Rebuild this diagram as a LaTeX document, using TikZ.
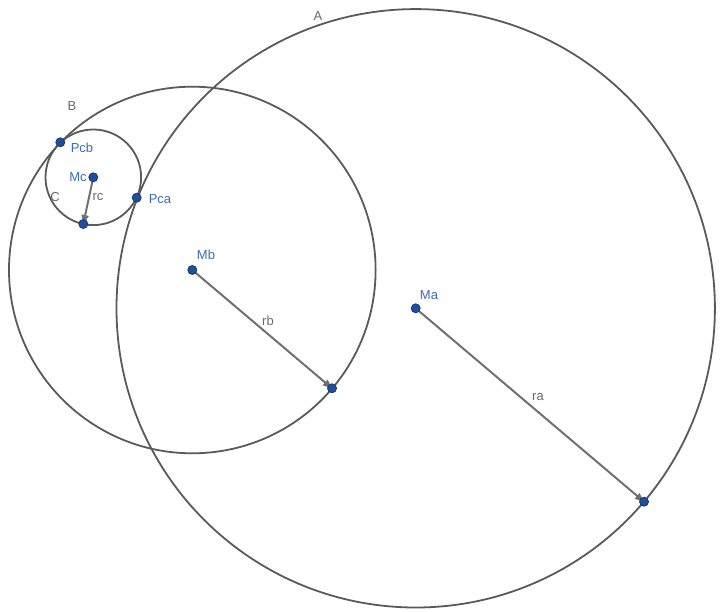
\documentclass[tikz,border=0pt]{standalone}
\usepackage{fontspec}
\setmainfont{Liberation Sans}
\usetikzlibrary{arrows.meta}
\definecolor{circ}{HTML}{5A5A5A}
\definecolor{vec}{HTML}{707070}
\definecolor{ptfill}{HTML}{1F4E9A}
\definecolor{ptdraw}{HTML}{123A78}
\definecolor{lblue}{HTML}{3A6DB5}
\definecolor{lgray}{HTML}{6A6A6A}
\tikzset{
  circline/.style={draw=circ, line width=1.8pt},
  vecline/.style={draw=vec, line width=2pt, -{Triangle[length=9pt,width=7pt]}},
  pt/.style={circle, fill=ptfill, draw=ptdraw, line width=0.8pt, inner sep=0pt, minimum size=9pt},
  plabel/.style={text=lblue, font=\fontsize{13}{13}\selectfont, inner sep=0pt},
  glabel/.style={text=lgray, font=\fontsize{13}{13}\selectfont, inner sep=0pt}
}
\begin{document}
\begin{tikzpicture}[x=1pt,y=-1pt]
\useasboundingbox (0,0) rectangle (720,612);
% centers and radius end points
\coordinate (ma) at (415.7,308.3);
\coordinate (mb) at (192.3,270);
\coordinate (mc) at (93.3,177.3);
\coordinate (ea) at (644,501.7);
\coordinate (eb) at (332,388.3);
\coordinate (ec) at (83.3,224);
% circles
\draw[circline] (ma) circle (299.2);
\draw[circline] (mb) circle (183.3);
\draw[circline] (mc) circle (47.8);
% vectors
\draw[vecline] (ma) -- (ea);
\draw[vecline] (mb) -- (eb);
\draw[vecline] (mc) -- (ec);
% points
\node[pt] (Ma) at (ma) {};
\node[pt] (Mb) at (mb) {};
\node[pt] (Mc) at (mc) {};
\node[pt] (Ea) at (ea) {};
\node[pt] (Eb) at (eb) {};
\node[pt] (Ec) at (ec) {};
\node[pt] (Pcb) at (60.3,142.3) {};
\node[pt] (Pca) at (136.7,197.7) {};
% labels
\node[plabel] (lMa) at (429,295) {Ma};
\node[plabel] (lMb) at (206,255) {Mb};
\node[plabel] (lMc) at (78,177) {Mc};
\node[plabel] (lPcb) at (82,148) {Pcb};
\node[plabel] (lPca) at (160,199) {Pca};
\node[glabel] (lA) at (318,16) {A};
\node[glabel] (lB) at (72,106) {B};
\node[glabel] (lC) at (55,197) {C};
\node[glabel] (lrc) at (98,197) {rc};
\node[glabel] (lrb) at (268,321) {rb};
\node[glabel] (lra) at (538,397) {ra};
\end{tikzpicture}
\end{document}
